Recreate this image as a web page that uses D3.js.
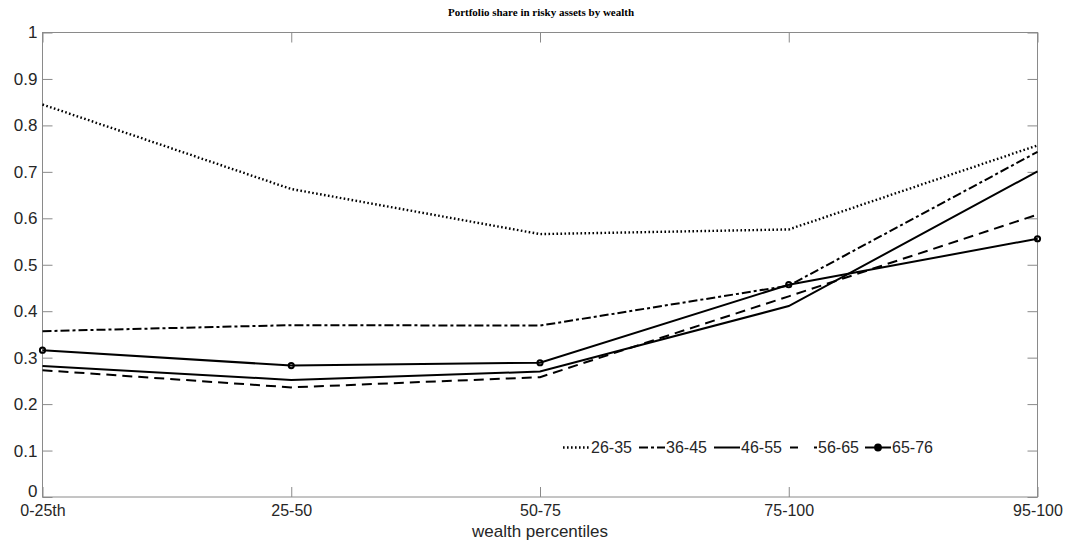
<!DOCTYPE html>
<html>
<head>
<meta charset="utf-8">
<script src="https://cdn.jsdelivr.net/npm/d3@7"></script>
<style>
  body { margin: 0; background: #fff; }
  svg text { font-family: "Liberation Sans", Arial, sans-serif; }
</style>
</head>
<body>
<div id="chart"></div>
<script>
// data
var categories = ["0-25th", "25-50", "50-75", "75-100", "95-100"];
var ageGroups = ["26-35", "36-45", "46-55", "56-65", "65-76"];
var share_26_35 = [0.845, 0.663, 0.566, 0.576, 0.757];
var share_36_45 = [0.357, 0.370, 0.369, 0.455, 0.743];
var share_46_55 = [0.282, 0.252, 0.270, 0.411, 0.701];
var share_56_65 = [0.273, 0.236, 0.258, 0.432, 0.608];
var share_65_76 = [0.316, 0.283, 0.289, 0.457, 0.556];
var yTicks = [0, 0.1, 0.2, 0.3, 0.4, 0.5, 0.6, 0.7, 0.8, 0.9, 1];

var series = [
  {name: ageGroups[0], values: share_26_35, dash: "1.6,2.4", marker: false},
  {name: ageGroups[1], values: share_36_45, dash: "9,3,3,3", marker: false},
  {name: ageGroups[2], values: share_46_55, dash: null, marker: false},
  {name: ageGroups[3], values: share_56_65, dash: "10,6", marker: false},
  {name: ageGroups[4], values: share_65_76, dash: null, marker: true}
];

var W = 1070, H = 543;
var margin = {top: 32.5, right: 32.5, bottom: 46, left: 42.5},
    width = W - margin.left - margin.right,
    height = H - margin.top - margin.bottom;

var axisColor = "#8a8a8a", textColor = "#262626";

var root = d3.select("#chart")
  .append("svg")
    .attr("width", W)
    .attr("height", H);

var svg = root.append("g")
    .attr("transform", "translate(" + margin.left + "," + margin.top + ")");

// title
root.append("text")
  .attr("x", 541)
  .attr("y", 16)
  .attr("text-anchor", "middle")
  .style("font-family", "'Liberation Serif', 'Times New Roman', serif")
  .style("font-weight", "bold")
  .style("font-size", "11px")
  .style("fill", "#000")
  .text("Portfolio share in risky assets by wealth");

var x = d3.scalePoint()
  .domain(categories)
  .range([0, width]);

var y = d3.scaleLinear()
  .domain([0, 1])
  .range([height, 0]);

// box
svg.append("rect")
  .attr("width", width)
  .attr("height", height)
  .attr("fill", "none")
  .attr("stroke", axisColor)
  .attr("stroke-width", 1);

// bottom axis (ticks point inward)
var xAxis = svg.append("g")
  .attr("transform", "translate(0," + height + ")")
  .call(d3.axisBottom(x).tickSize(-10).tickPadding(8));
xAxis.select(".domain").remove();
xAxis.selectAll("line").attr("stroke", axisColor);
xAxis.selectAll("text")
  .style("font-size", "16px")
  .style("fill", textColor);

// top ticks
var xTop = svg.append("g")
  .call(d3.axisTop(x).tickSize(-10).tickFormat(""));
xTop.select(".domain").remove();
xTop.selectAll("line").attr("stroke", axisColor);

// left axis
var yAxis = svg.append("g")
  .call(d3.axisLeft(y).tickValues(yTicks).tickSize(-10).tickPadding(5).tickFormat(d3.format("~g")));
yAxis.select(".domain").remove();
yAxis.selectAll("line").attr("stroke", axisColor);
yAxis.selectAll("text")
  .style("font-size", "17px")
  .style("fill", textColor);
// the "0" label sits a little higher, clear of the first category label
yAxis.selectAll("text").filter(d => d === 0).attr("y", -6);

// right ticks
var yRight = svg.append("g")
  .attr("transform", "translate(" + width + ",0)")
  .call(d3.axisRight(y).tickValues(yTicks).tickSize(-10).tickFormat(""));
yRight.select(".domain").remove();
yRight.selectAll("line").attr("stroke", axisColor);

// x label
svg.append("text")
  .attr("x", width / 2)
  .attr("y", height + 40)
  .attr("text-anchor", "middle")
  .style("font-size", "17px")
  .style("fill", textColor)
  .text("wealth percentiles");

var line = d3.line()
  .x((d, i) => x(categories[i]))
  .y(d => y(d));

series.forEach(function(s) {
  svg.append("path")
    .datum(s.values)
    .attr("fill", "none")
    .attr("stroke", "#000")
    .attr("stroke-width", s.dash === "1.6,2.4" ? 2.4 : 2)
    .attr("stroke-dasharray", s.dash)
    .attr("d", line);

  if (s.marker) {
    svg.selectAll(".marker")
      .data(s.values)
      .enter()
      .append("circle")
        .attr("cx", (d, i) => x(categories[i]))
        .attr("cy", d => y(d))
        .attr("r", 2.6)
        .attr("fill", "none")
        .attr("stroke", "#000")
        .attr("stroke-width", 2);
  }
});

// legend, no box
var legendItems = [
  {x0: 563, x1: 589, tx: 591},
  {x0: 639, x1: 665, tx: 666},
  {x0: 714, x1: 740, tx: 741},
  {x0: 790, x1: 817, tx: 818},
  {x0: 865, x1: 891, tx: 892}
];
var legend = root.append("g");
series.forEach(function(s, i) {
  var it = legendItems[i];
  var ly = 447.5;
  legend.append("line")
    .attr("x1", it.x0).attr("x2", it.x1)
    .attr("y1", ly).attr("y2", ly)
    .attr("stroke", "#000")
    .attr("stroke-width", s.dash === "1.6,2.4" ? 2.4 : 2)
    .attr("stroke-dasharray", s.dash === "10,6" ? "8,16" : s.dash);
  if (s.marker) {
    legend.append("circle")
      .attr("cx", (it.x0 + it.x1) / 2)
      .attr("cy", ly)
      .attr("r", 3)
      .attr("fill", "#000")
      .attr("stroke", "#000")
      .attr("stroke-width", 1.8);
  }
  legend.append("text")
    .attr("x", it.tx)
    .attr("y", ly)
    .attr("dy", "0.35em")
    .style("font-size", "16px")
    .style("fill", textColor)
    .text(s.name);
});
</script>
</body>
</html>
